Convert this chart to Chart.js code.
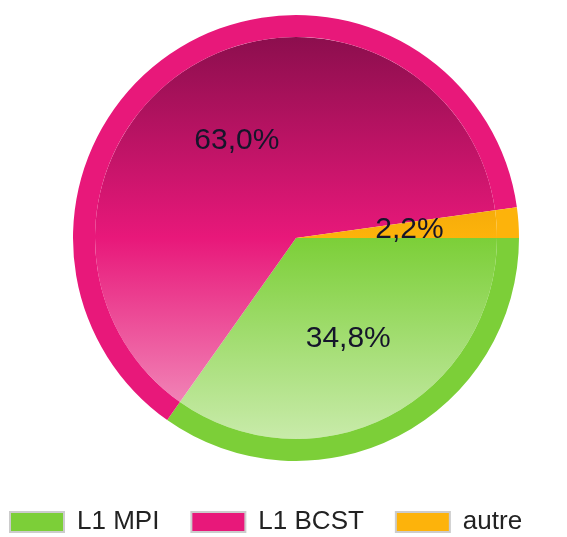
<!DOCTYPE html>
<html>
<head>
<meta charset="utf-8">
<script src="https://cdn.jsdelivr.net/npm/chart.js@4.4.1/dist/chart.umd.min.js"></script>
<style>
  body { margin: 0; background: #fff; }
  #wrap { width: 567px; height: 537px; }
</style>
</head>
<body>
<div id="wrap"><canvas id="pieChart"></canvas></div>
<script>
// data
const labels = ["L1 MPI", "L1 BCST", "autre"];
const values = [34.8, 63.0, 2.2];
const baseColors = ["#7ccf38", "#e8187a", "#fdb30b"];
// gradient stops per slice: top, middle, bottom
const topColors = ["#4f9a1e", "#8b0e4d", "#c98400"];
const bottomColors = ["#c9ebab", "#f39cc4", "#ffd97a"];

function innerGradient(context) {
    const chart = context.chart;
    const area = chart.chartArea;
    if (!area) return baseColors[context.dataIndex];
    const i = context.dataIndex;
    const g = chart.ctx.createLinearGradient(0, area.top + 20, 0, area.bottom - 20);
    g.addColorStop(0, topColors[i]);
    g.addColorStop(0.5, baseColors[i]);
    g.addColorStop(1, bottomColors[i]);
    return g;
}

// percentage labels inside the slices
const sliceLabels = {
    id: "sliceLabels",
    afterDatasetsDraw(chart) {
        const ctx = chart.ctx;
        const outer = chart.getDatasetMeta(0).data[0];
        const meta = chart.getDatasetMeta(1);
        ctx.save();
        ctx.font = "30px 'Liberation Sans', Arial, sans-serif";
        ctx.fillStyle = "#15152a";
        ctx.textAlign = "center";
        ctx.textBaseline = "middle";
        meta.data.forEach((arc, i) => {
            const a = (arc.startAngle + arc.endAngle) / 2;
            const r = outer.outerRadius * 0.51;
            const text = values[i].toFixed(1).replace(".", ",") + "%";
            ctx.fillText(text, arc.x + Math.cos(a) * r, arc.y + Math.sin(a) * r);
        });
        ctx.restore();
    }
};

// pie sits a bit right of centre, legend a bit left and lower
const placeBoxes = {
    id: "placeBoxes",
    afterLayout(chart) {
        const area = chart.chartArea;
        area.left = 25;
        area.right = 567;
        area.width = area.right - area.left;

        const l = chart.legend;
        const h = l.bottom - l.top;
        const w = l.right - l.left;
        l.left = -22;
        l.right = l.left + w;
        l.top = 477;
        l.bottom = l.top + h;
    }
};

const ctx = document.getElementById("pieChart").getContext("2d");

const chart = new Chart(ctx, {
    type: "pie",
    data: {
        labels: labels,
        datasets: [
            {
                data: values,
                backgroundColor: baseColors,
                borderWidth: 0,
                weight: 22
            },
            {
                data: values,
                backgroundColor: innerGradient,
                borderWidth: 0,
                weight: 201
            }
        ]
    },
    options: {
        responsive: true,
        maintainAspectRatio: false,
        animation: false,
        rotation: 90,
        layout: {
            padding: { top: 15, left: -6, right: -6, bottom: 8 }
        },
        plugins: {
            tooltip: { enabled: false },
            legend: {
                position: "bottom",
                align: "start",
                labels: {
                    boxWidth: 54,
                    boxHeight: 20,
                    padding: 32,
                    color: "#222",
                    font: { size: 26, family: "'Liberation Sans', Arial, sans-serif" },
                    generateLabels(chart) {
                        const items = Chart.overrides.pie.plugins.legend.labels.generateLabels(chart);
                        items.forEach(item => {
                            item.strokeStyle = "#cccccc";
                            item.lineWidth = 2;
                        });
                        return items;
                    }
                }
            }
        }
    },
    plugins: [sliceLabels, placeBoxes]
});
</script>
</body>
</html>
